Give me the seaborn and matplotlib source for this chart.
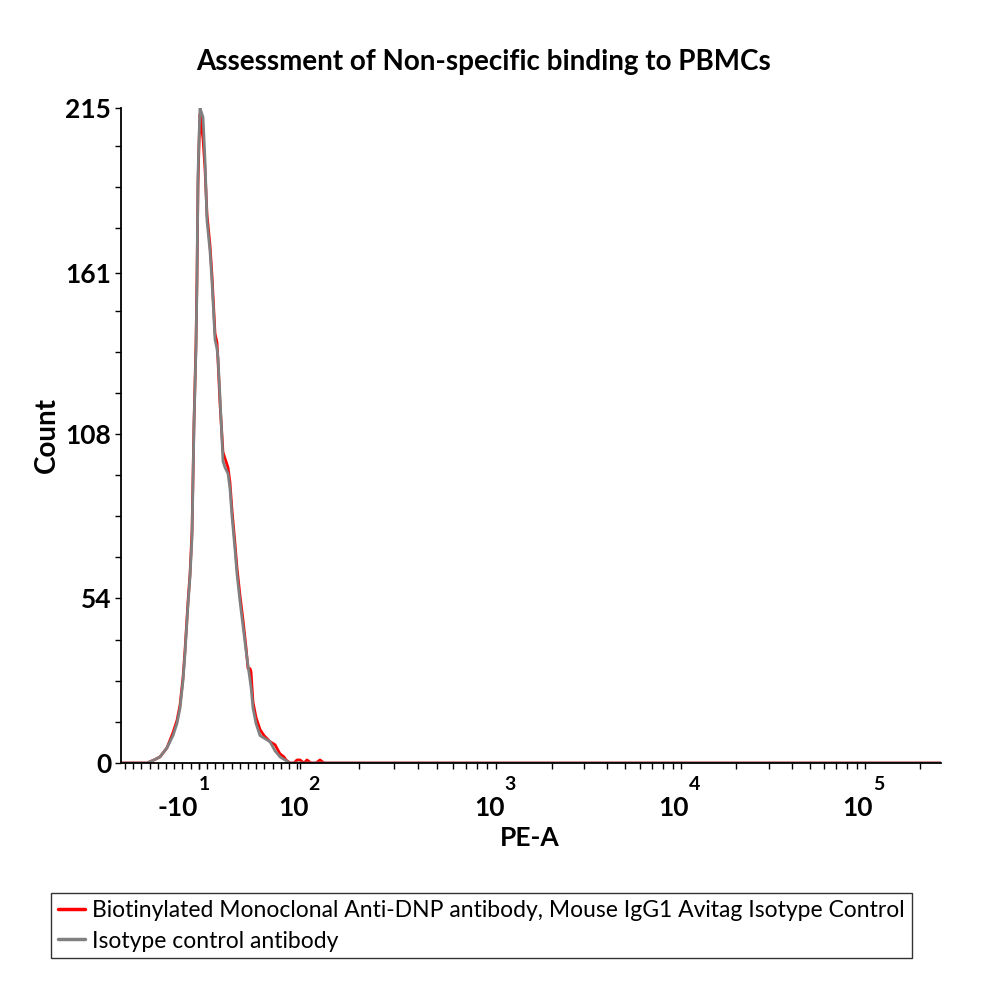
import numpy as np
import pandas as pd
import matplotlib
matplotlib.use("Agg")
import matplotlib.pyplot as plt
import seaborn as sns
from matplotlib.ticker import FixedLocator, NullFormatter

# ---- data (x in display-channel units of the biexponential PE-A axis) ----
red_x = [0, 26, 33, 39, 46, 52, 56, 59, 62, 64, 67, 69, 71, 73, 75, 76, 77, 78, 79, 80, 82, 84, 86,
         89, 91, 94, 96, 97, 99, 102, 104, 107, 109, 111, 114, 116, 119, 122, 125, 127, 129, 130,
         132, 135, 139, 143, 149, 154, 159, 163, 165, 169, 173, 176, 179, 183, 186, 190, 195, 199,
         203, 210, 820]
red_y = [0, 0, 1, 2, 5, 10, 14, 19, 28, 37, 53, 62, 76, 112, 138, 160, 190, 203, 213, 210, 205, 195,
         180, 170, 160, 141, 138, 132, 118, 102, 100, 97, 92, 83, 72, 64, 55, 47, 38, 31, 31, 30,
         20, 15, 11, 9, 7, 6, 3, 2, 1, 0, 0, 1, 1, 0, 1, 0, 0, 1, 0, 0, 0]

gray_x = [0, 26, 33, 39, 46, 52, 56, 59, 62, 64, 67, 69, 71, 73, 75, 76, 77, 78, 79, 80, 82, 84, 86,
          89, 91, 94, 96, 97, 99, 102, 104, 107, 109, 111, 114, 116, 119, 122, 125, 127, 130, 132,
          135, 139, 144, 149, 154, 159, 164, 169, 820]
gray_y = [0, 0, 1, 2, 5, 9, 13, 18, 27, 36, 52, 61, 74, 111, 136, 158, 193, 205, 215, 214, 212, 198,
          178, 168, 158, 139, 136, 133, 120, 99, 97, 95, 90, 81, 70, 62, 53, 45, 37, 32, 25, 18,
          13, 9, 8, 7, 4, 2, 1, 0, 0]

series_names = ["Biotinylated Monoclonal Anti-DNP antibody, Mouse IgG1 Avitag Isotype Control",
                "Isotype control antibody"]
series_colors = ["#ff0000", "#808080"]

x_tick_pos = [78, 179, 375, 560, 744]
x_tick_base = ["-10", "10", "10", "10", "10"]
x_tick_exp = ["1", "2", "3", "4", "5"]
y_ticks = [0, 54, 108, 161, 215]

title = "Assessment of Non-specific binding to PBMCs"
xlabel = "PE-A"
ylabel = "Count"

df = pd.concat([
    pd.DataFrame({"x": red_x, "count": red_y, "series": series_names[0]}),
    pd.DataFrame({"x": gray_x, "count": gray_y, "series": series_names[1]}),
], ignore_index=True)

sns.set_theme(style="white")
plt.rcParams["font.family"] = ["Lato", "DejaVu Sans"]
plt.rcParams["text.color"] = "black"
plt.rcParams["xtick.color"] = "black"
plt.rcParams["ytick.color"] = "black"
plt.rcParams["axes.labelcolor"] = "black"

fig = plt.figure(figsize=(10, 10), dpi=100)
ax = fig.add_axes([0.121, 0.237, 0.820, 0.655])

sns.lineplot(data=df, x="x", y="count", hue="series", palette=series_colors,
             hue_order=series_names, linewidth=2.0, ax=ax, legend=False, sort=False,
             estimator=None)
ax.set_xlabel("")
ax.set_ylabel("")

ax.set_xlim(0, 820)
ax.set_ylim(0, 215)

for s in ["top", "right"]:
    ax.spines[s].set_visible(False)
for s in ["left", "bottom"]:
    ax.spines[s].set_color("black")
    ax.spines[s].set_linewidth(1.3)

# y ticks
ax.yaxis.set_major_locator(FixedLocator(y_ticks))
ax.set_yticklabels([str(v) for v in y_ticks], fontsize=19, fontweight="bold")
y_minor = [v for v in np.arange(0, 215.01, 13.5) if all(abs(v - t) > 1 for t in y_ticks)]
ax.yaxis.set_minor_locator(FixedLocator(y_minor))
ax.tick_params(axis="y", which="both", direction="out", left=True, length=4, width=1,
               color="black", pad=3)

# x ticks (biexponential-style)
ax.xaxis.set_major_locator(FixedLocator(x_tick_pos))
ax.xaxis.set_major_formatter(NullFormatter())
minor = list(np.arange(4, 179, 8.2))
for i in range(1, len(x_tick_pos) - 1):
    p0, p1 = x_tick_pos[i], x_tick_pos[i + 1]
    for m in range(2, 10):
        minor.append(p0 + (p1 - p0) * np.log10(m))
d = x_tick_pos[-1] - x_tick_pos[-2]
for m in range(2, 10):
    v = x_tick_pos[-1] + d * np.log10(m)
    if v < 820:
        minor.append(v)
ax.xaxis.set_minor_locator(FixedLocator(minor))
ax.tick_params(axis="x", which="both", direction="out", bottom=True, length=4, width=1,
               color="black")

for i, (p, b, e) in enumerate(zip(x_tick_pos, x_tick_base, x_tick_exp)):
    boff = -21 if b.startswith("-") else -7
    ax.annotate(b, xy=(p, 0), xycoords=("data", "axes fraction"),
                xytext=(boff, -45), textcoords="offset pixels",
                ha="center", va="center", fontsize=19, fontweight="bold")
    ax.annotate(e, xy=(p, 0), xycoords=("data", "axes fraction"),
                xytext=(5 if i == 0 else 14, -22), textcoords="offset pixels",
                ha="center", va="center", fontsize=14, fontweight="bold")

fig.text(0.530, 1 - 0.838, xlabel, ha="center", va="center", fontsize=19, fontweight="bold")
fig.text(0.047, 1 - 0.435, ylabel, ha="center", va="center", rotation=90, fontsize=20,
         fontweight="bold")
fig.text(0.484, 1 - 0.062, title, ha="center", va="center", fontsize=20, fontweight="bold")

handles = [plt.Line2D([], [], color=c, linewidth=2.5) for c in series_colors]
leg = fig.legend(handles, series_names, loc="upper left", bbox_to_anchor=(0.051, 1 - 0.893),
                 frameon=True, fancybox=False, edgecolor="black", fontsize=16.5,
                 handlelength=1.2, handletextpad=0.3, borderpad=0.3, labelspacing=0.42,
                 borderaxespad=0)
leg.get_frame().set_linewidth(1.0)

fig.savefig("out.png", dpi=100)
